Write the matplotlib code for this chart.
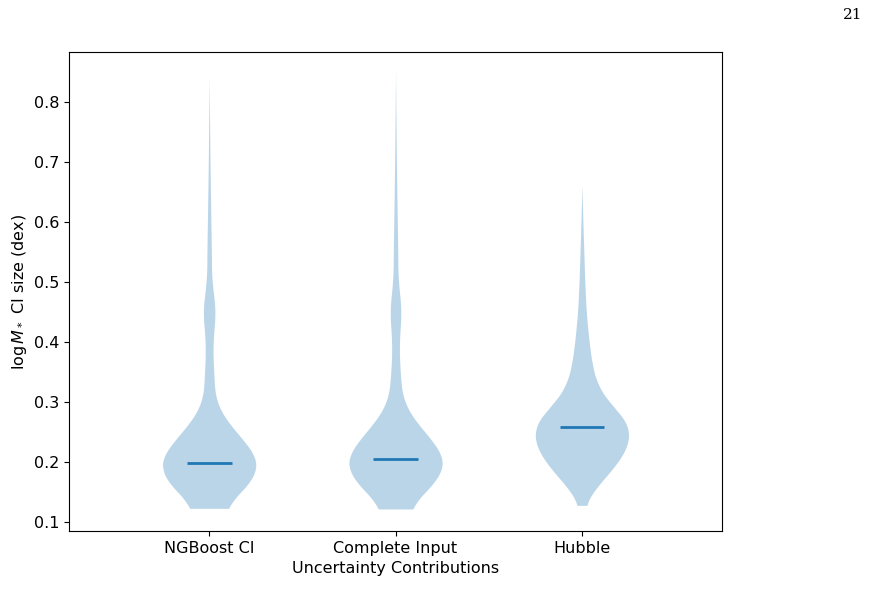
import numpy as np
import matplotlib.pyplot as plt

plt.rcParams['font.size'] = 11.5

categories = ["NGBoost CI", "Complete Input", "Hubble"]
medians = [0.198, 0.206, 0.259]

# density profiles (y value, relative density 0..1)
ngb_y = [0.123, 0.15, 0.18, 0.20, 0.22, 0.25, 0.28, 0.30, 0.35, 0.40, 0.43, 0.45, 0.47, 0.50, 0.55, 0.60, 0.70, 0.84]
ngb_d = [0.30, 0.65, 0.96, 1.00, 0.87, 0.54, 0.26, 0.13, 0.09, 0.07, 0.11, 0.13, 0.11, 0.05, 0.045, 0.035, 0.017, 0.0]
ci_y = [0.122, 0.15, 0.18, 0.20, 0.22, 0.25, 0.28, 0.30, 0.35, 0.40, 0.43, 0.45, 0.47, 0.50, 0.55, 0.60, 0.70, 0.85]
ci_d = [0.26, 0.60, 0.93, 1.00, 0.90, 0.58, 0.30, 0.15, 0.09, 0.07, 0.10, 0.12, 0.10, 0.05, 0.045, 0.035, 0.017, 0.0]
hub_y = [0.128, 0.15, 0.18, 0.20, 0.22, 0.24, 0.26, 0.28, 0.30, 0.33, 0.36, 0.40, 0.45, 0.50, 0.60, 0.66]
hub_d = [0.07, 0.22, 0.55, 0.76, 0.92, 1.00, 0.98, 0.82, 0.56, 0.32, 0.22, 0.15, 0.09, 0.06, 0.02, 0.0]

profiles = [(ngb_y, ngb_d), (ci_y, ci_d), (hub_y, hub_d)]


def smooth_profile(ys, ds, n=400, k=15):
    # linear interp on a fine grid, then a light moving average to round the corners
    yy = np.linspace(ys[0], ys[-1], n)
    dd = np.interp(yy, ys, ds)
    pad = np.pad(dd, k, mode="edge")
    dd = np.convolve(pad, np.ones(2 * k + 1) / (2 * k + 1), mode="same")[k:-k]
    dd[-1] = 0
    return yy, dd


fig, ax = plt.subplots(figsize=(8.78, 6.05), dpi=100)
fig.subplots_adjust(left=0.079, right=0.822, top=0.914, bottom=0.122)

half = 0.25
for i, (ys, ds) in enumerate(profiles):
    pos = i + 1
    yy, dd = smooth_profile(ys, ds)
    dd = dd / dd.max() * half
    ax.fill_betweenx(yy, pos - dd, pos + dd, color="#1f77b4", alpha=0.3, linewidth=0)
    ax.hlines(medians[i], pos - 0.12, pos + 0.12, color="#1f77b4", linewidth=2)

ax.set_xlim(0.25, 3.75)
ax.set_ylim(0.085, 0.883)
ax.set_xticks([1, 2, 3])
ax.set_xticklabels(categories)
ax.set_yticks([0.1, 0.2, 0.3, 0.4, 0.5, 0.6, 0.7, 0.8])
ax.set_xlabel("Uncertainty Contributions")
ax.set_ylabel(r"$\log M_*$ CI size (dex)")

fig.text(0.982, 0.975, "21", family="DejaVu Serif", fontsize=11, ha="right", va="center")

plt.savefig("out.png", dpi=100)
